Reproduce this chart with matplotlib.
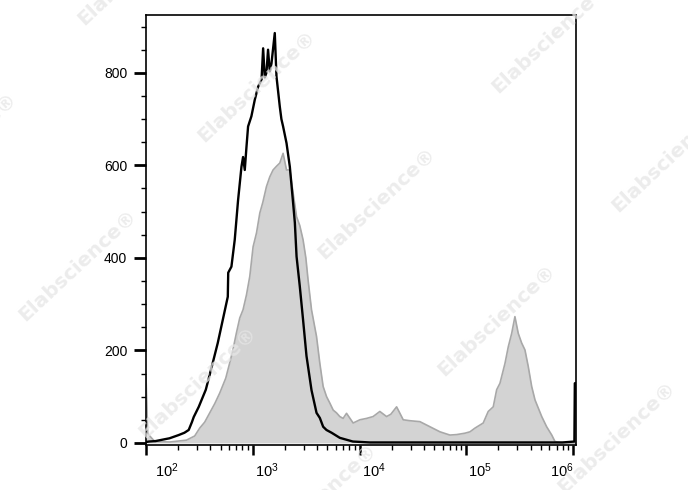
import numpy as np
import matplotlib
matplotlib.use("Agg")
import matplotlib.pyplot as plt
from matplotlib.ticker import LogLocator, MultipleLocator, NullFormatter, FixedLocator
import matplotlib.transforms as mtransforms

plt.rcParams['font.family'] = ['Liberation Sans', 'DejaVu Sans']
plt.rcParams['mathtext.fontset'] = 'custom'
plt.rcParams['mathtext.rm'] = 'Liberation Sans'
plt.rcParams['mathtext.it'] = 'Liberation Sans'

# ---- data (log10 of fluorescence intensity, event counts) ----
gray_log = [2.000, 2.016, 2.082, 2.222, 2.379, 2.456, 2.503, 2.550, 2.597, 2.644,
            2.691, 2.747, 2.784, 2.813, 2.847, 2.878, 2.909, 2.941, 2.972, 3.003,
            3.035, 3.066, 3.094, 3.128, 3.159, 3.190, 3.222, 3.253, 3.284, 3.316,
            3.347, 3.378, 3.410, 3.440, 3.471, 3.497, 3.518, 3.550, 3.597, 3.628,
            3.659, 3.691, 3.722, 3.753, 3.784, 3.815, 3.846, 3.878, 3.940, 4.003,
            4.066, 4.127, 4.190, 4.253, 4.293, 4.347, 4.409, 4.471, 4.565, 4.659,
            4.753, 4.846, 4.909, 4.987, 5.034, 5.081, 5.158, 5.205, 5.252, 5.284,
            5.315, 5.362, 5.393, 5.425, 5.455, 5.486, 5.518, 5.549, 5.580, 5.612,
            5.643, 5.706, 5.752, 5.800, 5.830, 5.877, 5.971, 6.030]
gray_count = [143, 20, 3, 2, 6, 15, 32, 45, 65, 85,
              108, 140, 173, 200, 238, 270, 288, 320, 360, 424,
              454, 497, 520, 554, 575, 590, 598, 605, 626, 590,
              590, 540, 489, 470, 439, 400, 352, 288, 230, 172,
              122, 100, 86, 71, 65, 57, 53, 64, 43, 50,
              53, 57, 68, 57, 62, 78, 50, 48, 46, 35,
              24, 17, 18, 21, 24, 32, 43, 68, 78, 115,
              129, 172, 208, 237, 273, 237, 216, 201, 165, 122,
              93, 57, 35, 17, 3, 1, 0, 0]

black_log = [2.000, 2.028, 2.090, 2.154, 2.220, 2.306, 2.360, 2.400, 2.430, 2.447,
             2.494, 2.560, 2.625, 2.672, 2.719, 2.766, 2.770, 2.800, 2.831, 2.862,
             2.894, 2.909, 2.925, 2.941, 2.956, 2.987, 3.019, 3.050, 3.082, 3.097,
             3.112, 3.128, 3.143, 3.159, 3.175, 3.206, 3.222, 3.253, 3.268, 3.284,
             3.316, 3.347, 3.378, 3.394, 3.410, 3.440, 3.471, 3.503, 3.550, 3.597,
             3.628, 3.659, 3.690, 3.738, 3.815, 3.937, 4.097, 5.000, 5.900, 6.012,
             6.016, 6.030]
black_count = [2, 3, 4, 7, 10, 17, 22, 28, 45, 56,
               78, 115, 173, 216, 266, 316, 368, 381, 439, 524,
               597, 618, 590, 640, 684, 706, 742, 770, 785, 853,
               790, 800, 850, 803, 820, 886, 792, 727, 700, 684,
               648, 597, 518, 476, 403, 339, 266, 188, 114, 65,
               54, 35, 28, 22, 11, 3, 1, 1, 1, 3,
               129, 129]

x_major = [1e2, 1e3, 1e4, 1e5, 1e6]
x_labels = [r'$\mathregular{10^{2}}$', r'$\mathregular{10^{3}}$', r'$\mathregular{10^{4}}$',
            r'$\mathregular{10^{5}}$', r'$\mathregular{10^{6}}$']
y_major = [0, 200, 400, 600, 800]
watermark = "Elabscience\u00ae"

# ---- figure ----
W, H = 688, 490
fig = plt.figure(figsize=(W / 100, H / 100), dpi=100)
ax = fig.add_axes([146 / W, 1 - 445 / H, 430 / W, 430 / H])

gx = 10 ** np.array(gray_log)
bx = 10 ** np.array(black_log)
ax.fill_between(gx, gray_count, 0, color='#d3d3d3', lw=0, zorder=1)
ax.plot(gx, gray_count, color='#a8a8a8', lw=1.2, zorder=2)
ax.plot(bx, black_count, color='black', lw=1.7, zorder=3)

ax.set_xscale('log')
ax.set_xlim(100, 10 ** 6.027)
ax.set_ylim(-4.5, 925)

ax.xaxis.set_major_locator(FixedLocator(x_major))
ax.xaxis.set_minor_locator(LogLocator(base=10, subs=np.arange(2, 10)))
ax.xaxis.set_minor_formatter(NullFormatter())
ax.set_xticklabels(x_labels)
ax.yaxis.set_major_locator(FixedLocator(y_major))
ax.yaxis.set_minor_locator(MultipleLocator(50))
ax.set_yticklabels([str(v) for v in y_major])

for s in ax.spines.values():
    s.set_linewidth(1.2)
ax.tick_params(axis='x', which='major', length=7.5, width=1.8, pad=4, labelsize=10.5)
ax.tick_params(axis='x', which='minor', length=3.5, width=1.0)
ax.tick_params(axis='y', which='major', length=8.5, width=2.0, pad=5, labelsize=10)
ax.tick_params(axis='y', which='minor', length=3.8, width=1.0)

# x label placement (left-aligned next to tick, edges adjusted)
labs = ax.get_xticklabels()
for i, lab in enumerate(labs):
    if i == 0:
        lab.set_ha('left')
        lab.set_transform(lab.get_transform() + mtransforms.ScaledTranslation(9 / 100, 0, fig.dpi_scale_trans))
    elif i == len(labs) - 1:
        lab.set_ha('right')
        lab.set_transform(lab.get_transform() + mtransforms.ScaledTranslation(1 / 100, 0, fig.dpi_scale_trans))
    else:
        lab.set_ha('left')
        lab.set_transform(lab.get_transform() + mtransforms.ScaledTranslation(2 / 100, 0, fig.dpi_scale_trans))

# watermarks
centers = [(137, -31), (257, 86), (377, 203), (497, 320), (617, 437),
           (-42, 148), (78, 265), (198, 382), (318, 499),
           (551, 37), (671, 156)]
for (cx, cy) in centers:
    fig.text(cx / W, 1 - cy / H, watermark, rotation=43, rotation_mode='anchor',
             ha='center', va='center', fontsize=14.5, fontweight='bold',
             color='#e6e6e6', alpha=0.75, zorder=10, family='DejaVu Sans')

fig.savefig('out.png', dpi=100)
